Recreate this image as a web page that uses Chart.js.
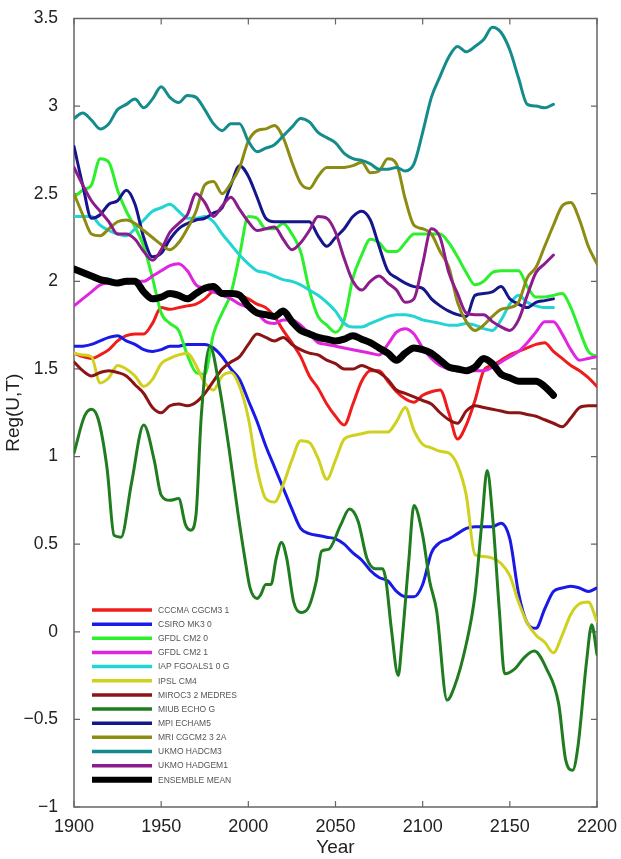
<!DOCTYPE html>
<html>
<head>
<meta charset="utf-8">
<script src="https://cdn.jsdelivr.net/npm/chart.js@4.4.1/dist/chart.umd.min.js"></script>
<style>
  html, body { margin: 0; padding: 0; background: #ffffff; }
  canvas { display: block; }
</style>
</head>
<body>
<canvas id="chart" width="621" height="859"></canvas>
<script>
// Common 5-year grid for the smoothed model series
const years = [1900,1905,1910,1915,1920,1925,1930,1935,1940,1945,
               1950,1955,1960,1965,1970,1975,1980,1985,1990,1995,
               2000,2005,2010,2015,2020,2025,2030,2035,2040,2045,
               2050,2055,2060,2065,2070,2075,2080,2085,2090,2095,
               2100,2105,2110,2115,2120,2125,2130,2135,2140,2145,
               2150,2155,2160,2165,2170,2175,2180,2185,2190,2195,2200];

const cccma = [1.59,1.57,1.56,1.58,1.61,1.66,1.69,1.70,1.70,1.76,
               1.85,1.84,1.85,1.86,1.87,1.90,1.94,1.93,1.93,1.92,
               1.90,1.87,1.85,1.80,1.72,1.65,1.57,1.46,1.39,1.30,
               1.23,1.18,1.30,1.43,1.49,1.49,1.43,1.37,1.33,1.31,
               1.35,1.37,1.38,1.25,1.10,1.18,1.32,1.49,1.52,1.55,
               1.58,1.60,1.62,1.64,1.65,1.60,1.56,1.52,1.49,1.45,1.40];

const csiro = [1.63,1.63,1.64,1.66,1.68,1.69,1.66,1.64,1.61,1.60,
               1.61,1.63,1.63,1.64,1.64,1.64,1.62,1.57,1.50,1.44,
               1.32,1.20,1.06,0.94,0.82,0.70,0.59,0.56,0.55,0.54,
               0.53,0.50,0.45,0.41,0.35,0.31,0.29,0.23,0.20,0.20,
               0.27,0.45,0.51,0.53,0.56,0.59,0.60,0.60,0.60,0.62,
               0.53,0.22,0.05,0.02,0.13,0.23,0.25,0.26,0.25,0.23,0.25];

const gfdl20 = [2.48,2.52,2.55,2.70,2.68,2.52,2.40,2.31,2.20,2.02,
                1.82,1.76,1.72,1.58,1.48,1.47,1.70,1.82,1.93,2.15,
                2.37,2.36,2.30,2.30,2.33,2.27,2.17,1.95,1.80,1.75,
                1.71,1.78,2.02,2.15,2.24,2.22,2.17,2.17,2.22,2.27,
                2.27,2.27,2.27,2.22,2.14,2.05,1.98,2.00,2.05,2.06,
                2.06,2.06,1.97,1.91,1.91,1.92,1.93,1.85,1.72,1.60,1.57];

const gfdl21 = [1.86,1.90,1.94,1.98,1.99,1.99,1.99,2.00,2.00,2.03,
                2.06,2.09,2.10,2.06,1.98,1.96,1.94,1.92,1.90,1.87,
                1.85,1.82,1.77,1.76,1.78,1.78,1.75,1.70,1.65,1.64,
                1.63,1.62,1.61,1.60,1.59,1.58,1.64,1.71,1.73,1.70,
                1.62,1.56,1.52,1.50,1.49,1.49,1.49,1.49,1.51,1.54,
                1.57,1.60,1.65,1.71,1.77,1.77,1.70,1.61,1.55,1.56,1.57];

const iap = [2.37,2.37,2.37,2.32,2.29,2.27,2.26,2.30,2.35,2.40,
             2.42,2.44,2.40,2.36,2.36,2.37,2.34,2.27,2.21,2.15,
             2.10,2.06,2.05,2.03,2.01,2.00,1.98,1.95,1.92,1.88,
             1.83,1.76,1.74,1.74,1.76,1.78,1.80,1.81,1.81,1.80,
             1.78,1.77,1.76,1.75,1.75,1.76,1.75,1.73,1.72,1.78,
             1.87,1.92,1.88,1.86,1.85,1.85];

const ipsl = [1.59,1.58,1.57,1.42,1.45,1.52,1.50,1.46,1.40,1.44,
              1.53,1.56,1.58,1.59,1.52,1.42,1.38,1.46,1.48,1.40,
              1.22,0.93,0.76,0.74,0.84,0.98,1.09,1.08,0.99,0.87,
              0.98,1.10,1.12,1.13,1.14,1.14,1.14,1.20,1.28,1.15,
              1.07,1.05,1.03,1.02,0.95,0.78,0.44,0.43,0.42,0.39,
              0.32,0.17,0.05,-0.02,-0.06,-0.12,-0.02,0.10,0.16,0.17,0.06];

const miroc = [1.54,1.49,1.46,1.48,1.49,1.48,1.46,1.41,1.36,1.28,
               1.25,1.29,1.30,1.29,1.31,1.36,1.43,1.50,1.54,1.57,
               1.64,1.70,1.68,1.66,1.68,1.64,1.61,1.59,1.58,1.55,
               1.53,1.50,1.50,1.52,1.50,1.48,1.44,1.38,1.36,1.34,
               1.32,1.30,1.25,1.21,1.19,1.26,1.29,1.28,1.27,1.26,
               1.25,1.25,1.24,1.23,1.21,1.19,1.17,1.22,1.28,1.29,1.29];

// MIUB ECHO G swings quickly, so it keeps its own (denser) years
const miubYears = [1900,1906,1910,1914,1919,1923,1927,1933,1940,1946,
                   1950,1955,1960,1964,1967,1970,1973,1978,1983,1989,
                   1994,1998,2001,2005,2007,2010,2013,2016,2019,2022,
                   2026,2030,2034,2039,2042,2046,2053,2058,2063,2068,
                   2073,2077,2079,2082,2086,2088,2092,2095,2100,2104,
                   2108,2114,2118,2125,2130,2134,2137,2140,2144,2147,
                   2153,2158,2164,2171,2178,2182,2186,2189,2194,2197,2200];
const miub = [1.02,1.23,1.27,1.21,0.93,0.55,0.54,0.85,1.18,0.98,
              0.78,0.75,0.76,0.61,0.58,0.67,1.23,1.63,1.42,1.04,
              0.68,0.42,0.25,0.19,0.21,0.27,0.27,0.42,0.51,0.42,
              0.17,0.11,0.13,0.29,0.46,0.47,0.61,0.70,0.63,0.42,
              0.36,0.36,0.29,0.02,-0.25,-0.07,0.40,0.72,0.55,0.29,
              0.12,-0.39,-0.32,-0.07,0.21,0.63,0.92,0.67,0.12,-0.24,
              -0.21,-0.15,-0.11,-0.21,-0.41,-0.73,-0.79,-0.66,-0.17,0.04,-0.13];

const mpi = [2.77,2.55,2.36,2.38,2.44,2.46,2.52,2.44,2.25,2.14,
             2.16,2.24,2.30,2.33,2.35,2.36,2.39,2.42,2.55,2.66,
             2.60,2.48,2.36,2.34,2.34,2.34,2.34,2.34,2.26,2.20,
             2.25,2.30,2.37,2.40,2.35,2.20,2.06,2.02,1.99,1.97,
             1.96,1.90,1.86,1.83,1.81,1.80,1.92,1.93,1.94,1.97,
             1.90,1.87,1.85,1.88,1.89,1.90];

const mri = [2.50,2.38,2.27,2.26,2.30,2.34,2.35,2.33,2.29,2.25,
             2.21,2.18,2.22,2.30,2.40,2.55,2.57,2.50,2.56,2.65,
             2.80,2.86,2.87,2.89,2.82,2.68,2.56,2.53,2.60,2.65,
             2.65,2.65,2.66,2.68,2.62,2.63,2.70,2.67,2.47,2.32,
             2.30,2.27,2.17,2.08,1.88,1.77,1.72,1.75,1.80,1.84,
             1.85,1.88,2.02,2.08,2.20,2.32,2.43,2.45,2.35,2.20,2.10];

const hadcm3 = [2.93,2.96,2.92,2.87,2.90,2.98,3.01,3.04,2.99,3.04,
                3.11,3.05,3.02,3.06,3.05,2.98,2.90,2.86,2.90,2.90,
                2.80,2.74,2.76,2.78,2.83,2.88,2.93,2.91,2.85,2.82,
                2.79,2.73,2.70,2.69,2.67,2.64,2.64,2.65,2.63,2.67,
                2.85,3.05,3.17,3.28,3.34,3.31,3.34,3.38,3.45,3.42,
                3.32,3.16,3.01,3.00,2.99,3.01];

const hadgem1 = [2.65,2.55,2.46,2.40,2.34,2.27,2.27,2.24,2.17,2.12,
                 2.18,2.28,2.33,2.38,2.50,2.45,2.37,2.43,2.48,2.41,
                 2.34,2.29,2.30,2.31,2.24,2.18,2.22,2.29,2.37,2.36,
                 2.28,2.13,2.00,1.95,2.00,2.03,1.99,1.95,1.88,1.90,
                 2.10,2.30,2.25,2.05,1.93,1.82,1.81,1.81,1.77,1.74,
                 1.72,1.78,1.92,2.05,2.10,2.15];

const ensembleMean = [2.07,2.05,2.03,2.01,2.00,1.99,2.00,2.00,1.94,1.90,
                      1.91,1.93,1.92,1.90,1.93,1.96,1.97,1.93,1.93,1.92,
                      1.86,1.82,1.81,1.80,1.83,1.77,1.72,1.70,1.68,1.67,
                      1.66,1.67,1.69,1.67,1.65,1.62,1.59,1.55,1.59,1.62,
                      1.61,1.59,1.55,1.51,1.50,1.49,1.51,1.56,1.53,1.47,
                      1.45,1.43,1.43,1.43,1.40,1.35];

const seriesLabels = ['CCCMA CGCM3 1','CSIRO MK3 0','GFDL CM2 0','GFDL CM2 1',
                      'IAP FGOALS1 0 G','IPSL CM4','MIROC3 2 MEDRES','MIUB ECHO G',
                      'MPI ECHAM5','MRI CGCM2 3 2A','UKMO HADCM3','UKMO HADGEM1',
                      'ENSEMBLE MEAN'];
const xTicks = [1900, 1950, 2000, 2050, 2100, 2150, 2200];
const xTickLabels = ['1900','1950','2000','2050','2100','2150','2200'];
const yTickLabels = ['\u22121','\u22120.5','0','0.5','1','1.5','2','2.5','3','3.5'];

// Styling
const seriesColors = ['#f01c1c','#1a1ae6','#2cf02c','#e024e0','#22d4d4','#d0d01e',
                      '#8c1414','#1f7d1f','#16168c','#8c8c12','#148c8c','#8c1c8c','#000000'];
const FONT = '"Liberation Sans", Arial, Helvetica, sans-serif';
const AXIS_COLOR = '#666666';

const seriesValues = [cccma, csiro, gfdl20, gfdl21, iap, ipsl, miroc, miub,
                      mpi, mri, hadcm3, hadgem1, ensembleMean];
const seriesYears = seriesValues.map(v => v === miub ? miubYears : years);

const datasets = seriesValues.map((vals, i) => {
  const isMean = i === seriesValues.length - 1;
  return {
    label: seriesLabels[i],
    data: vals.map((v, k) => ({ x: seriesYears[i][k], y: v })),
    borderColor: seriesColors[i],
    backgroundColor: seriesColors[i],
    borderWidth: isMean ? 7 : 3,
    pointRadius: 0,
    tension: 0.3,
    cubicInterpolationMode: 'monotone',
    borderJoinStyle: 'round',
    borderCapStyle: 'round',
    fill: false,
    order: seriesValues.length - i   // later series sit on top, mean last
  };
});

// Axes box with inward tick marks on all four sides
const boxPlugin = {
  id: 'axesBox',
  beforeDatasetsDraw(chart) {
    const { ctx, chartArea: a, scales } = chart;
    ctx.save();
    ctx.strokeStyle = AXIS_COLOR;
    ctx.lineWidth = 1.5;
    ctx.strokeRect(a.left, a.top, a.right - a.left, a.bottom - a.top);
    ctx.lineWidth = 1.2;
    const len = 6;
    ctx.beginPath();
    scales.x.ticks.forEach(t => {
      const px = scales.x.getPixelForValue(t.value);
      ctx.moveTo(px, a.bottom); ctx.lineTo(px, a.bottom - len);
      ctx.moveTo(px, a.top); ctx.lineTo(px, a.top + len);
    });
    scales.y.ticks.forEach(t => {
      const py = scales.y.getPixelForValue(t.value);
      ctx.moveTo(a.left, py); ctx.lineTo(a.left + len, py);
      ctx.moveTo(a.right, py); ctx.lineTo(a.right - len, py);
    });
    ctx.stroke();
    ctx.restore();
  }
};

// Legend placed inside the lower-left corner of the plot
const insetLegend = {
  id: 'insetLegend',
  afterDatasetsDraw(chart) {
    const { ctx, chartArea: a } = chart;
    const x0 = a.left + 18, x1 = a.left + 78, tx = a.left + 84;
    const y0 = 610, step = 14.15;
    ctx.save();
    ctx.font = '8.5px ' + FONT;
    ctx.textBaseline = 'middle';
    ctx.textAlign = 'left';
    chart.data.datasets.forEach((ds, i) => {
      const y = y0 + i * step;
      ctx.strokeStyle = ds.borderColor;
      ctx.lineWidth = i === chart.data.datasets.length - 1 ? 6 : 3.5;
      ctx.lineCap = 'butt';
      ctx.beginPath();
      ctx.moveTo(x0, y); ctx.lineTo(x1, y);
      ctx.stroke();
      ctx.fillStyle = '#555555';
      ctx.fillText(ds.label, tx, y + 0.5);
    });
    ctx.restore();
  }
};

new Chart(document.getElementById('chart'), {
  type: 'line',
  data: { datasets },
  options: {
    responsive: false,
    animation: false,
    devicePixelRatio: 1,
    events: [],
    layout: { padding: { top: 13, right: 24, left: 0, bottom: 0 } },
    plugins: { legend: { display: false }, tooltip: { enabled: false } },
    scales: {
      x: {
        type: 'linear',
        min: 1900, max: 2200,
        afterFit: s => { s.height = 52; },
        afterBuildTicks: s => { s.ticks = xTicks.map(v => ({ value: v })); },
        grid: { display: false },
        border: { display: false },
        ticks: {
          padding: 1,
          maxRotation: 0,
          autoSkip: false,
          color: '#222222',
          font: { family: FONT, size: 18 },
          callback: (v) => xTickLabels[xTicks.indexOf(v)]
        },
        title: {
          display: true, text: 'Year', color: '#222222',
          font: { family: FONT, size: 19 },
          padding: { top: 0, bottom: 0 }
        }
      },
      y: {
        type: 'linear',
        min: -1, max: 3.5,
        afterFit: s => { s.width = 74; },
        grid: { display: false },
        border: { display: false },
        ticks: {
          stepSize: 0.5,
          padding: 8,
          autoSkip: false,
          color: '#222222',
          font: { family: FONT, size: 17.5 },
          callback: (v, idx) => yTickLabels[idx]
        },
        title: {
          display: true, text: 'Reg(U,T)', color: '#222222',
          font: { family: FONT, size: 19 },
          padding: { top: 2, bottom: 0 }
        }
      }
    }
  },
  plugins: [boxPlugin, insetLegend]
});
</script>
</body>
</html>
